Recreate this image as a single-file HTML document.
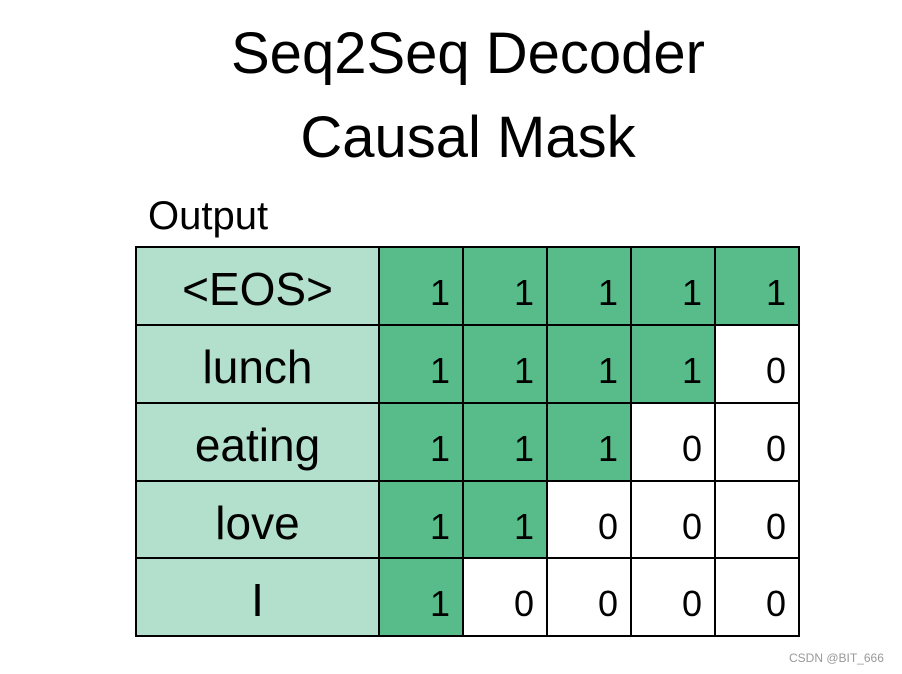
<!DOCTYPE html>
<html><head><style>
body{margin:0;width:902px;height:674px;background:#fff;position:relative;font-family:"Liberation Sans",sans-serif;overflow:hidden}
.t{position:absolute;left:0;width:936px;text-align:center;font-size:58px;color:#000}
.c{position:absolute;box-sizing:border-box;border:2px solid #000;display:flex;align-items:center}
.l{background:#b3e0cc;justify-content:center;font-size:46px;padding-top:6px}
.d{justify-content:flex-end;padding:14px 12px 0 0;font-size:36px;background:#fff}
.g{background:#57bb8a}
</style></head><body>
<div class="t" style="top:20px">Seq2Seq Decoder</div>
<div class="t" style="top:104px">Causal Mask</div>
<div style="position:absolute;left:148px;top:194px;font-size:40px">Output</div>
<div id="g"></div>
<script>
var rows=["&lt;EOS&gt;","lunch","eating","love","I"];
var ys=[246,324,402,480,557,635],xs=[378,462,546,630,714,798];
var h="";
for(var r=0;r<5;r++){
 h+='<div class="c l" style="left:135px;top:'+ys[r]+'px;width:245px;height:'+(ys[r+1]-ys[r]+2)+'px">'+rows[r]+'</div>';
 for(var c=0;c<5;c++){
  var v=(c<5-r)?1:0;
  h+='<div class="c d'+(v?' g':'')+'" style="left:'+xs[c]+'px;top:'+ys[r]+'px;width:'+(xs[c+1]-xs[c]+2)+'px;height:'+(ys[r+1]-ys[r]+2)+'px">'+v+'</div>';
 }
}
document.getElementById("g").innerHTML=h;
</script>
<div style="position:absolute;left:789px;top:651px;font-size:12px;color:#999">CSDN @BIT_666</div>
</body></html>
